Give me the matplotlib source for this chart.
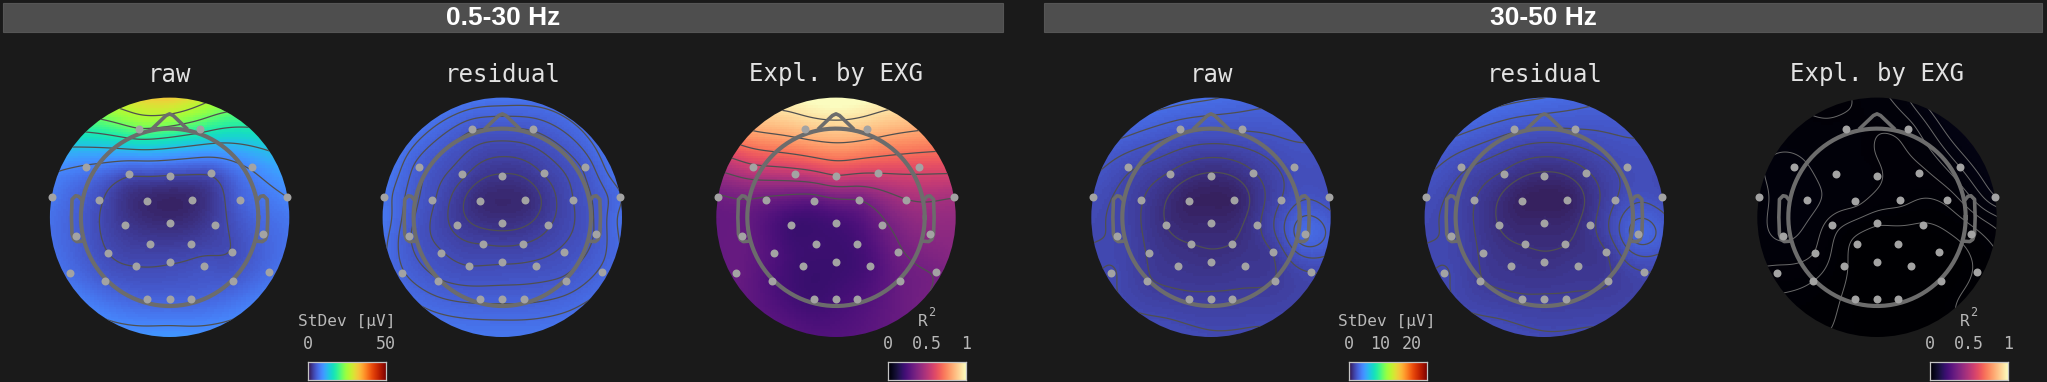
import matplotlib
matplotlib.use('Agg')
import matplotlib.pyplot as plt
import numpy as np
from matplotlib.patches import Circle, Rectangle

W, H = 2047, 382
BG = '#1a1a1a'

# sensor positions on the unit disc (x right, y up)
sensor_x = np.array([-0.256, 0.256, -0.696, -0.340, 0.0, 0.348, 0.691, -0.986, -0.588, -0.187,
                     0.189, 0.588, 0.983, -0.783, -0.376, 0.0, 0.382, 0.783, -0.515, -0.164,
                     0.175, 0.518, -0.836, -0.279, 0.0, 0.284, 0.833, -0.538, 0.532, -0.187,
                     0.0, 0.178])
sensor_y = np.array([0.738, 0.738, 0.418, 0.362, 0.343, 0.368, 0.423, 0.173, 0.145, 0.139,
                     0.142, 0.148, 0.167, -0.153, -0.067, -0.045, -0.064, -0.139, -0.298, -0.220,
                     -0.220, -0.290, -0.462, -0.407, -0.370, -0.404, -0.457, -0.535, -0.535, -0.685,
                     -0.685, -0.685])

# rim values follow these angles, degrees counter-clockwise from the right side
rim_angle = np.arange(0, 360, 22.5)

# standard deviation in uV, 0.5-30 Hz
raw_low = [22, 19, 8, 4.3, 3.7, 4.2, 9, 7.5, 4.4, 1.6, 1.6, 5.8, 8.5, 5.5, 2.7, 1.8,
           3.3, 6, 4, 3, 3.1, 4, 6.5, 4, 3.9, 4.6, 6.5, 5.2, 5.2, 5.7, 5.8, 5.7]
raw_low_rim = [7.5, 11, 17, 25, 33, 28, 18, 8.7, 7, 7, 8.3, 9.2, 10.2, 9.2, 8.3, 7]
res_low = [5, 5, 5.3, 3.6, 2.4, 3.4, 5.1, 7, 4.3, 1.7, 1.7, 4.1, 6.3, 5, 3, 2.1,
           3.2, 5, 4.2, 3.3, 3.3, 4.3, 5.8, 4.1, 4, 4.3, 5.9, 5, 5.1, 5.5, 5.5, 5.5]
res_low_rim = [7.2, 7.3, 6.9, 6.9, 7.4, 7.3, 7.2, 7.4, 7.6, 6.4, 6.6, 7.2, 7.5, 7.2, 6.7, 6.3]

# R2, 0.5-30 Hz
expl_low = [0.88, 0.88, 0.56, 0.53, 0.58, 0.58, 0.62, 0.33, 0.32, 0.28, 0.33, 0.46, 0.46, 0.31,
            0.2, 0.22, 0.32, 0.4, 0.25, 0.21, 0.22, 0.33, 0.31, 0.2, 0.2, 0.23, 0.34, 0.24,
            0.31, 0.2, 0.22, 0.24]
expl_low_rim = [0.42, 0.6, 0.82, 0.97, 1.05, 0.97, 0.82, 0.47, 0.3, 0.3, 0.29, 0.27, 0.26, 0.29,
                0.34, 0.38]

# standard deviation in uV, 30-50 Hz
raw_high = [2.5, 2.4, 2, 1.4, 0.9, 1.4, 2.1, 2.1, 1.5, 0.6, 0.6, 1.9, 2.1, 1.85, 1, 0.8,
            1.35, 3.2, 1.4, 1, 1, 1.45, 1.95, 1.25, 1.1, 1.3, 1.9, 1.5, 1.45, 1.55, 1.55, 1.55]
raw_high_rim = [2.4, 2.1, 2.5, 2.9, 3.4, 3.4, 3, 2.4, 2, 1.85, 1.9, 2.1, 2, 1.95, 1.75, 2.1]
res_high = [2.45, 2.35, 2, 1.38, 0.88, 1.38, 2.05, 2.1, 1.48, 0.55, 0.55, 1.85, 2.05, 1.85, 0.98, 0.78,
            1.3, 3.1, 1.38, 0.98, 0.98, 1.42, 1.95, 1.22, 1.08, 1.28, 1.88, 1.48, 1.42, 1.52, 1.52, 1.52]
res_high_rim = [2.35, 2.05, 2.45, 2.85, 3.35, 3.35, 2.95, 2.4, 2, 1.85, 1.9, 2.1, 2, 1.95, 1.72, 2.05]

# R2 x 1000, 30-50 Hz
expl_high = [16.5, 17, 21.5, 16, 15.5, 13.5, 25, 18, 23, 17.5, 12, 11.5, 30, 21, 12, 5.5,
             4.5, 7.5, 15, 3, 2.5, 3, 13, 6, 2, 1.5, 5.5, 10, 2.5, 3.5, 2.5, 2.5]
expl_high_rim = [20, 35, 38, 30, 18, 13.5, 17.5, 20, 18, 15.5, 8.5, 5, 3.5, 2.5, 6, 7.5]

raw_low_levels = [4, 8.5, 13, 17.5, 22, 26.5]
res_low_levels = [2.5, 3.3, 4.1, 4.9, 5.7, 6.5]
expl_low_levels = [0.34, 0.46, 0.58, 0.7, 0.82, 0.94]
high_levels = [1.0, 1.45, 1.9, 2.35, 2.8, 3.25]
expl_high_levels = [5, 10, 15, 20, 25, 30]

cbar_title = ['StDev [µV]', 'R', 'StDev [µV]', 'R']
low_ticks = [0, 50]
high_ticks = [0, 10, 20]
r2_ticks = [0, 0.5, 1]

head_angle = np.linspace(0, 2 * np.pi, 200)
nose_x = [-0.14, -0.03, 0, 0.03, 0.14]
nose_y = [0.745, 0.85, 0.864, 0.85, 0.745]
ear_x = [0.735, 0.76, 0.785, 0.815, 0.82, 0.815, 0.8, 0.775, 0.735]
ear_y = [0.145, 0.175, 0.18, 0.15, 0.0, -0.14, -0.185, -0.203, -0.2]


def px_axes(fig, x0, y0, x1, y1):
    return fig.add_axes([x0 / W, 1 - y1 / H, (x1 - x0) / W, (y1 - y0) / H])


def spline(px, py, values, qx, qy, smooth):
    # thin plate spline through the sensors and the rim, a bit smoothed
    d = np.hypot(px[:, None] - px[None, :], py[:, None] - py[None, :])
    k = np.where(d > 0, d ** 2 * np.log(d + 1e-12), 0.0) + smooth * np.eye(len(px))
    p = np.column_stack([np.ones(len(px)), px, py])
    n = len(px)
    a = np.block([[k, p], [p.T, np.zeros((3, 3))]])
    coef = np.linalg.solve(a, np.r_[values, np.zeros(3)])
    dq = np.hypot(qx.ravel()[:, None] - px[None, :], qy.ravel()[:, None] - py[None, :])
    kq = np.where(dq > 0, dq ** 2 * np.log(dq + 1e-12), 0.0)
    out = kq @ coef[:n] + coef[n] + coef[n + 1] * qx.ravel() + coef[n + 2] * qy.ravel()
    return out.reshape(qx.shape)


def topo(fig, cx, values, rim, cmap, vmax, levels, line_color, line_width, smooth):
    cy, r = 217.3, 119.7
    ax = px_axes(fig, cx - 1.1 * r, cy - 1.1 * r, cx + 1.1 * r, cy + 1.1 * r)
    ax.set_xlim(-1.1, 1.1)
    ax.set_ylim(-1.1, 1.1)
    ax.axis('off')

    px = np.r_[sensor_x, 1.03 * np.cos(np.radians(rim_angle))]
    py = np.r_[sensor_y, 1.03 * np.sin(np.radians(rim_angle))]
    vals = np.r_[values, rim]

    edges = np.linspace(-1.04, 1.04, 105)
    gx, gy = np.meshgrid(edges, edges)
    z = spline(px, py, vals, gx, gy, smooth)
    clip = Circle((0, 0), 1.0, transform=ax.transData, fc='none', ec='none')
    ax.add_patch(clip)
    im = ax.imshow(z, extent=[-1.05, 1.05, -1.05, 1.05], origin='lower', cmap=cmap, vmin=0, vmax=vmax,
                   interpolation='nearest', aspect='auto')
    im.set_clip_path(clip)

    fine = np.linspace(-1.04, 1.04, 240)
    fx, fy = np.meshgrid(fine, fine)
    cs = ax.contour(fx, fy, spline(px, py, vals, fx, fy, smooth), levels=levels, colors=line_color,
                    linewidths=line_width)
    cs.set_clip_path(clip)

    gray = '#6c6c6c'
    ax.plot(0.741 * np.cos(head_angle), 0.741 * np.sin(head_angle), color=gray, lw=3.0)
    ax.plot(nose_x, nose_y, color=gray, lw=2.6, solid_joinstyle='round')
    ax.plot(ear_x, ear_y, color=gray, lw=2.6, solid_joinstyle='round')
    ax.plot(-np.array(ear_x), ear_y, color=gray, lw=2.6, solid_joinstyle='round')
    ax.scatter(sensor_x, sensor_y, s=33, color='#a3a3a3', linewidths=0, zorder=5, clip_on=False)


def colorbar(fig, x0, cmap, ticks, vmax, labels):
    width = 78
    ax = px_axes(fig, x0, 362, x0 + width, 379.5)
    ax.imshow(np.linspace(0, 1, 256)[None, :], cmap=cmap, aspect='auto')
    ax.set_xticks([])
    ax.set_yticks([])
    for s in ax.spines.values():
        s.set_color('#c4c4c4')
        s.set_linewidth(0.9)
    for t, lab in zip(ticks, labels):
        fig.text((x0 + width * t / vmax) / W, 1 - 344 / H, lab, color='#b8b8b8', fontsize=12,
                 family='DejaVu Sans Mono', ha='center', va='center')


fig = plt.figure(figsize=(W / 100, H / 100), dpi=100, facecolor=BG)

# header bars
back = fig.add_axes([0, 0, 1, 1])
back.set_xlim(0, W)
back.set_ylim(H, 0)
back.axis('off')
for x0, x1, label in [(3, 1003, '0.5-30 Hz'), (1044, 2042, '30-50 Hz')]:
    back.add_patch(Rectangle((x0, 3), x1 - x0, 29, fc='#4e4e4e', ec='#555555', lw=0.8))
    back.text((x0 + x1) / 2, 18, label, color='white', fontsize=19, fontweight='bold',
              family='Liberation Sans', ha='center', va='center')

centers = [169.6, 502.3, 836, 1211, 1544.3, 1877]
titles = ['raw', 'residual', 'Expl. by EXG', 'raw', 'residual', 'Expl. by EXG']
for c, t in zip(centers, titles):
    back.text(c, 74.5, t, color='#e2e2e2', fontsize=17.3, family='DejaVu Sans Mono', ha='center', va='center')

dark_line = '#505050'
topo(fig, centers[0], raw_low, raw_low_rim, 'turbo', 50, raw_low_levels, dark_line, 0.9, 0.01)
topo(fig, centers[1], res_low, res_low_rim, 'turbo', 50, res_low_levels, dark_line, 0.9, 0.005)
topo(fig, centers[2], expl_low, expl_low_rim, 'magma', 1, expl_low_levels, dark_line, 0.9, 0.01)
topo(fig, centers[3], raw_high, raw_high_rim, 'turbo', 25, high_levels, dark_line, 0.9, 0.003)
topo(fig, centers[4], res_high, res_high_rim, 'turbo', 25, high_levels, dark_line, 0.9, 0.003)
topo(fig, centers[5], np.array(expl_high) / 1000, np.array(expl_high_rim) / 1000, 'magma', 1,
     np.array(expl_high_levels) / 1000, '#6a6a6a', 0.7, 0.01)

colorbar(fig, 307.5, 'turbo', low_ticks, 50, ['0', '50'])
colorbar(fig, 888, 'magma', r2_ticks, 1, ['0', '0.5', '1'])
colorbar(fig, 1349, 'turbo', high_ticks, 25, ['0', '10', '20'])
colorbar(fig, 1930, 'magma', r2_ticks, 1, ['0', '0.5', '1'])

for x, label in zip([346.7, 922.5, 1387, 1964.5], cbar_title):
    back.text(x, 321.5, label, color='#b8b8b8', fontsize=11.6, family='DejaVu Sans Mono', ha='center', va='center')
for x in [931.5, 1973.5]:
    back.text(x, 313, '2', color='#b8b8b8', fontsize=8.5, family='DejaVu Sans Mono', ha='center', va='center')

fig.savefig('out.png', dpi=100, facecolor=BG)
